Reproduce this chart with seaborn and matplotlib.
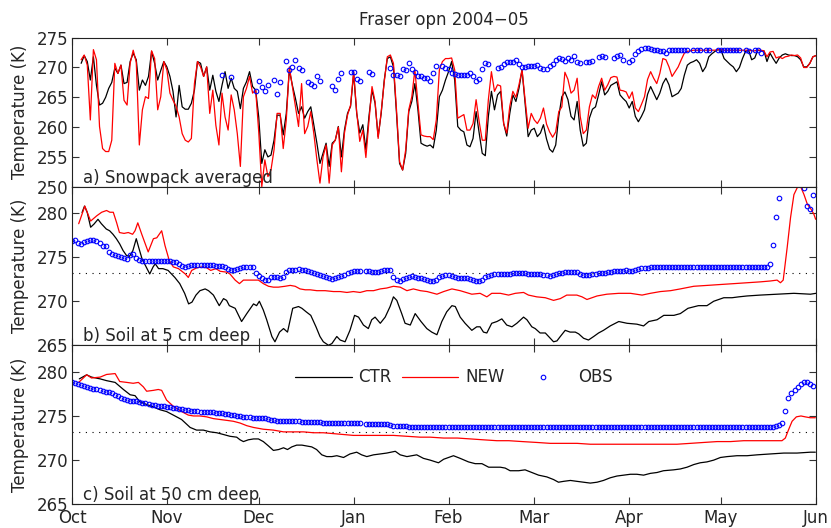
import numpy as np
import pandas as pd
import matplotlib
matplotlib.use("Agg")
import matplotlib.pyplot as plt
import matplotlib.dates as mdates
import seaborn as sns

nan = np.nan

# ---------------------------------------------------------------- data
START = pd.Timestamp("2004-10-01")
END = pd.Timestamp("2005-06-01")

months = ["Oct", "Nov", "Dec", "Jan", "Feb", "Mar", "Apr", "May", "Jun"]
series_names = ["CTR", "NEW", "OBS"]
panel_titles = ["a) Snowpack averaged", "b) Soil at 5 cm deep", "c) Soil at 50 cm deep"]
freezing_point = 273.15

# (a) snowpack-averaged temperature, daily from 4 Oct 2004
first_day_a = 3
ctr_a = [
    270.7, 272.0, 271.0, 267.9, 271.8, 267.0, 263.7, 264.0, 265.0, 266.5,
    267.5, 269.9, 269.0, 270.4, 267.3, 267.5, 271.0, 272.4, 271.3, 266.2,
    267.9, 267.0, 268.5, 272.7, 270.7, 267.9, 269.5, 271.0, 270.1, 268.5,
    266.0, 261.7, 267.0, 263.4, 263.0, 263.0, 264.0, 266.2, 271.0, 270.7,
    268.5, 270.1, 266.2, 268.7, 266.0, 264.3, 267.0, 269.3, 266.5, 268.2,
    266.5, 266.0, 263.1, 266.5, 267.6, 269.3, 266.8, 266.2, 261.7, 253.9,
    256.2, 255.0, 255.3, 257.8, 262.0, 262.0, 258.7, 262.3, 269.6, 267.0,
    264.8, 262.3, 263.4, 261.5, 262.6, 263.4, 260.3, 257.3, 253.9, 255.6,
    257.3, 253.4, 257.3, 257.8, 260.1, 255.0, 259.5, 262.3, 263.5, 269.0,
    262.3, 259.0, 260.4, 256.2, 261.8, 266.2, 264.0, 258.4, 262.3, 267.9,
    271.5, 271.8, 270.1, 262.3, 253.9, 252.8, 255.6, 262.6, 264.3, 267.3,
    262.9, 257.3, 257.0, 256.8, 257.0, 256.5, 259.5, 265.1, 266.2, 267.9,
    269.3, 271.0, 267.9, 260.1, 259.5, 259.2, 257.0, 256.7, 258.1, 262.6,
    259.0, 255.6, 255.2, 261.8, 266.0, 262.9, 265.4, 266.0, 260.6, 258.5,
    262.3, 265.4, 264.3, 266.5, 269.6, 264.0, 258.4, 259.5, 259.8, 258.4,
    259.0, 260.4, 258.0, 256.3, 255.8, 257.0, 261.8, 265.1, 265.9, 264.6,
    261.8, 261.2, 264.3, 259.5, 256.8, 257.3, 261.5, 263.0, 263.4, 265.4,
    267.6, 265.4, 266.0, 267.0, 267.3, 267.6, 265.4, 264.8, 264.3, 263.2,
    264.3, 261.8, 260.9, 261.8, 262.9, 265.5, 266.8, 265.7, 264.6, 265.7,
    267.3, 268.2, 267.1, 265.1, 265.4, 265.7, 266.5, 268.7, 270.4, 270.8,
    271.0, 271.3, 270.7, 269.3, 270.1, 271.8, 272.3, 272.7, 273.0, 272.9,
    271.5, 271.0, 270.5, 270.1, 269.3, 270.0, 271.5, 272.7, 272.9, 271.3,
    271.6, 272.9, 272.8, 272.8, 271.0, 272.4, 271.5, 270.7, 271.6, 272.1,
    272.3, 272.1, 272.0, 272.0, 271.8, 271.3, 270.1, 270.1, 270.7, 271.8, 272.0,
]
new_a = [
    271.3, 272.1, 270.4, 261.2, 273.0, 271.3, 260.1, 256.4, 255.9, 255.9,
    257.8, 270.7, 269.0, 270.4, 264.5, 263.7, 270.7, 272.9, 270.9, 257.0,
    262.9, 265.1, 264.8, 272.8, 271.5, 262.9, 265.1, 271.0, 269.6, 265.7,
    264.5, 263.5, 261.7, 258.9, 257.8, 257.5, 258.1, 267.3, 271.0, 270.1,
    268.5, 270.1, 262.3, 266.2, 260.3, 257.0, 265.7, 261.7, 259.5, 265.4,
    262.9, 258.9, 253.4, 265.1, 266.5, 268.5, 265.7, 266.2, 259.2, 250.0,
    254.5, 251.7, 252.8, 256.2, 262.3, 262.3, 256.4, 261.2, 270.1, 266.8,
    263.4, 260.1, 267.3, 258.9, 260.1, 262.6, 258.9, 254.5, 250.6, 255.0,
    257.0, 250.6, 257.0, 257.8, 260.0, 252.5, 259.0, 262.0, 263.7, 269.3,
    262.5, 257.6, 259.5, 254.9, 261.0, 266.8, 264.3, 258.1, 262.6, 267.6,
    271.8, 272.1, 270.7, 262.9, 254.2, 252.8, 256.2, 262.9, 265.1, 269.6,
    264.0, 258.7, 258.5, 258.4, 258.4, 257.9, 261.2, 269.6, 271.0, 271.5,
    271.5, 271.6, 269.6, 261.5, 261.8, 262.1, 259.5, 259.5, 260.6, 264.6,
    260.9, 257.8, 257.8, 264.6, 269.3, 266.0, 267.1, 266.9, 260.6, 259.0,
    263.5, 266.0, 265.0, 267.1, 269.6, 264.6, 259.8, 262.3, 261.2, 260.6,
    261.5, 263.2, 260.5, 259.2, 258.3, 259.2, 262.6, 263.4, 269.2, 268.0,
    265.7, 266.2, 268.2, 261.8, 258.9, 259.5, 263.4, 265.4, 264.8, 266.8,
    268.2, 266.2, 267.1, 268.3, 268.5, 268.4, 266.2, 266.1, 265.9, 264.8,
    265.9, 263.2, 262.6, 263.8, 265.1, 268.0, 269.3, 268.2, 267.3, 269.0,
    271.5, 271.3, 270.1, 268.5, 269.3, 270.1, 271.3, 272.4, 272.7, 272.8,
    272.9, 272.9, 272.9, 272.9, 272.9, 272.9, 272.9, 272.9, 273.0, 273.0,
    272.9, 272.9, 272.9, 272.9, 272.9, 272.9, 272.9, 272.9, 272.9, 272.8,
    272.8, 272.9, 272.9, 272.8, 271.8, 272.6, 272.7, 271.6, 271.8, 271.5,
    271.8, 271.9, 272.1, 272.0, 272.1, 271.6, 270.0, 270.0, 270.7, 271.8, 272.0,
]
obs_a_day = [
    49, 52, 60, 61, 62, 63, 64, 66, 67, 68, 70, 71, 72, 73, 74, 75, 77, 78, 79, 80,
    81, 85, 86, 87, 88, 91, 92, 93, 94, 97, 98, 104, 105, 106, 107, 108, 109, 110, 111, 112,
    113, 114, 115, 116, 117, 118, 119, 121, 122, 123, 124, 125, 126, 127, 128, 129, 130, 131, 132, 133,
    134, 135, 136, 139, 140, 141, 142, 143, 144, 145, 146, 147, 148, 149, 150, 151, 152, 153, 154, 155,
    156, 157, 158, 159, 160, 161, 162, 163, 164, 165, 166, 168, 169, 170, 172, 173, 174, 177, 178, 179,
    180, 182, 183, 184, 185, 186, 187, 188, 189, 190, 191, 192, 193, 194, 195, 196, 197, 198, 199, 200,
    201, 203, 204, 205, 207, 208, 211, 212, 213, 214, 215, 216, 217, 218, 220, 221, 223, 224, 225,
]
obs_a = [
    268.8, 268.4, 266.0, 267.7, 266.7, 266.0, 267.0, 267.9, 265.6, 267.6, 271.1, 269.6, 270.1, 271.2, 269.9, 269.5, 267.6, 267.3, 266.9, 268.6,
    267.7, 266.9, 266.3, 268.0, 269.1, 269.2, 269.2, 268.1, 267.7, 269.2, 268.9, 269.9, 268.7, 268.7, 268.5, 269.7, 269.6, 270.7, 269.8, 269.3,
    268.6, 268.6, 268.3, 268.2, 267.7, 269.0, 270.2, 270.2, 269.9, 269.7, 269.0, 268.9, 268.8, 268.7, 268.7, 268.8, 269.1, 268.6, 267.7, 268.1,
    269.8, 270.8, 270.6, 269.9, 270.1, 270.6, 270.9, 270.9, 270.9, 271.3, 270.6, 270.1, 270.1, 270.3, 270.3, 270.3, 270.5, 269.9, 269.7, 269.7,
    270.2, 270.6, 271.2, 271.6, 271.4, 271.1, 271.6, 271.2, 271.9, 271.0, 270.7, 270.9, 270.9, 271.1, 271.8, 271.9, 271.8, 271.6, 272.0, 272.1,
    271.3, 271.0, 271.2, 272.3, 272.8, 273.1, 273.2, 273.2, 273.1, 273.0, 272.9, 272.8, 272.7, 272.5, 272.9, 273.0, 273.0, 273.0, 273.0, 273.0,
    273.0, 273.0, 273.0, 273.0, 273.0, 273.0, 273.0, 273.0, 273.0, 273.0, 273.0, 273.0, 273.0, 273.0, 272.9, 272.8, 272.9, 272.9, 272.4,
]

# (b) soil temperature at 5 cm
day_b_ctr = [
    3.3, 4.1, 5.0, 6.1, 7.2, 8.5, 9.6, 11.2, 12.3, 13.4,
    14.5, 15.6, 16.7, 17.8, 18.8, 19.9, 21.0, 21.8, 22.9, 24.0,
    25.4, 26.5, 27.2, 28.3, 29.7, 31.4, 33.6, 35.2, 36.8, 38.1,
    39.2, 40.5, 41.8, 43.5, 44.6, 46.2, 48.1, 49.5, 50.5, 51.4,
    53.3, 55.4, 57.1, 59.3, 60.3, 61.2, 62.5, 63.6, 65.3, 66.3,
    67.8, 69.1, 70.4, 72.1, 74.0, 75.1, 76.5, 78.0, 79.7, 81.0,
    82.1, 83.8, 84.9, 86.5, 87.6, 89.2, 90.8, 92.3, 93.6, 95.2,
    96.8, 97.9, 99.0, 100.7, 102.3, 103.9, 105.0, 106.1, 107.7, 108.8,
    110.5, 112.1, 114.0, 115.9, 117.5, 119.2, 120.8, 122.4, 124.1, 125.2,
    126.8, 128.4, 130.6, 132.2, 133.3, 134.4, 135.5, 137.1, 138.8, 140.4,
    142.0, 143.7, 145.3, 147.5, 148.6, 150.2, 151.3, 152.9, 154.6, 156.2,
    157.3, 158.4, 159.5, 161.1, 162.7, 164.4, 165.5, 167.1, 168.7, 170.4,
    172.0, 173.6, 175.8, 178.6, 181.3, 184.5, 186.7, 188.4, 191.1, 193.3,
    196.6, 198.7, 201.2, 204.6, 207.4, 209.6, 212.9, 215.6, 217.8, 220.5,
    224.8, 230.3, 235.8, 241.2, 243.0,
]
ctr_b = [
    280.07, 280.8, 280.07, 278.4, 278.76, 279.3, 278.8, 278.2, 278.0, 277.6,
    277.1, 276.5, 275.75, 275.2, 275.1, 275.75, 277.1, 276.1, 274.8, 274.05,
    273.1, 273.9, 274.25, 273.7, 273.7, 273.5, 272.7, 272.0, 270.9, 269.7,
    269.9, 270.7, 271.2, 271.4, 271.2, 270.7, 269.5, 270.3, 270.1, 269.5,
    269.2, 267.7, 268.6, 269.7, 269.5, 270.0, 269.0, 267.9, 266.0, 265.4,
    266.5, 266.9, 266.5, 269.2, 269.4, 269.2, 268.8, 268.4, 267.1, 266.0,
    265.4, 265.0, 265.2, 266.0, 265.6, 265.4, 266.7, 268.4, 268.2, 267.3,
    266.9, 267.9, 268.2, 267.5, 268.2, 269.4, 270.5, 270.1, 268.6, 267.5,
    267.3, 268.6, 267.7, 266.9, 266.5, 266.2, 267.7, 268.8, 269.5, 269.4,
    268.2, 267.5, 266.7, 267.1, 267.1, 266.5, 266.4, 267.5, 267.7, 268.0,
    267.3, 267.1, 267.5, 268.2, 267.9, 267.1, 266.9, 266.4, 266.4, 265.8,
    265.4, 265.5, 266.0, 266.7, 266.5, 266.5, 266.3, 265.8, 265.6, 266.0,
    266.4, 266.7, 267.2, 267.7, 267.5, 267.4, 267.2, 267.7, 267.9, 268.4,
    268.4, 268.6, 269.2, 269.5, 269.5, 270.0, 270.4, 270.4, 270.5, 270.6,
    270.7, 270.8, 270.9, 270.8, 270.9,
]
day_b_new = [
    2.2, 4.2, 6.1, 8.1, 9.7, 11.3, 12.4, 13.5, 14.6, 15.5,
    17.0, 18.4, 19.8, 20.6, 21.5, 22.8, 24.9, 26.6, 27.7, 29.3,
    30.4, 31.8, 33.1, 34.8, 37.0, 38.0, 39.1, 40.8, 42.4, 44.0,
    45.3, 47.0, 48.4, 50.6, 51.6, 53.3, 54.7, 56.0, 57.6, 59.3,
    60.9, 62.5, 64.2, 65.8, 67.4, 69.6, 71.3, 72.9, 74.5, 76.2,
    77.8, 80.0, 82.7, 85.4, 87.6, 89.8, 91.9, 94.1, 96.3, 98.5,
    100.7, 102.8, 105.0, 107.2, 109.4, 111.5, 113.8, 116.0, 119.2, 121.4,
    124.1, 126.8, 130.6, 133.3, 135.5, 137.1, 139.9, 142.6, 144.8, 147.5,
    149.1, 151.8, 154.6, 157.3, 159.5, 161.6, 164.9, 166.6, 168.2, 171.5,
    174.7, 178.6, 182.4, 186.2, 188.9, 192.2, 195.5, 198.7, 203.1, 207.5,
    211.8, 216.2, 220.5, 224.8, 228.1, 230.3, 231.4, 232.3, 233.6, 234.7,
    235.8, 236.9, 238.0, 239.1, 240.2, 241.3, 242.3, 242.9,
]
new_b = [
    278.8, 280.8, 279.1, 279.7, 280.1, 280.3, 280.1, 280.1, 278.9, 277.8,
    277.7, 277.8, 277.6, 278.0, 278.9, 277.6, 275.6, 277.1, 277.2, 278.0,
    276.3, 274.6, 273.9, 273.7, 273.1, 272.7, 273.5, 273.8, 273.9, 273.8,
    273.5, 273.7, 273.4, 273.3, 273.1, 272.4, 272.0, 272.4, 272.4, 272.4,
    272.4, 272.0, 271.7, 271.6, 271.6, 271.7, 271.8, 271.7, 271.4, 271.3,
    271.3, 271.2, 271.2, 271.1, 271.1, 271.0, 271.1, 271.0, 271.2, 271.2,
    271.4, 271.5, 271.7, 271.6, 271.2, 271.4, 271.2, 271.1, 270.8, 271.1,
    271.4, 271.2, 270.8, 270.9, 270.5, 270.9, 270.9, 270.7, 270.9, 271.0,
    270.7, 270.5, 270.4, 270.1, 270.3, 270.7, 270.7, 270.5, 270.2, 270.6,
    270.8, 270.9, 270.9, 270.7, 270.9, 271.1, 271.2, 271.4, 271.7, 271.8,
    271.9, 272.0, 272.1, 272.2, 272.3, 272.4, 272.1, 272.4, 276.1, 279.5,
    282.1, 282.9, 283.0, 282.1, 281.0, 280.5, 279.9, 279.3,
]
# daily observations from 1 Oct 2004 (nan = no observation drawn)
obs_b = [
    276.8, 276.95, 276.6, 276.5, 276.75, 276.8, 276.95, 277.0, 276.8, 276.6,
    276.3, 276.3, 275.6, 275.4, 275.2, 275.15, 275.0, 274.9, 274.8, 275.2,
    275.4, 274.9, 274.7, 274.55, 274.55, 274.55, 274.55, 274.55, 274.55, 274.55,
    274.55, 274.55, 274.55, 274.5, 274.4, 274.2, 274.0, 273.9, 274.0, 274.1,
    274.15, 274.15, 274.15, 274.15, 274.1, 274.1, 274.1, 274.05, 274.05, 273.95,
    273.85, 273.7, 273.6, 273.5, 273.7, 273.8, 273.85, 273.87, 273.87, 273.87,
    273.2, 272.85, 272.6, 272.4, 272.4, 272.7, 272.7, 272.7, 272.6, 272.8,
    273.3, 273.55, 273.57, 273.6, 273.65, 273.6, 273.5, 273.4, 273.3, 273.2,
    273.12, 273.0, 272.9, 272.8, 272.6, 272.5, 272.6, 272.75, 272.85, 272.95,
    273.15, 273.3, 273.4, 273.42, 273.42, nan, 273.42, 273.4, 273.35, 273.3,
    273.3, 273.4, 273.55, 273.6, 273.5, 272.75, 272.45, 272.35, 272.5, 272.65,
    272.8, 272.82, 272.75, 272.67, 272.6, 272.5, 272.4, 272.35, 272.3, 272.4,
    272.7, 272.85, 272.93, 272.95, 272.82, 272.75, 272.67, 272.67, 272.67, 272.6,
    272.5, 272.4, 272.35, 272.26, 272.4, 272.7, 272.85, 272.95, 273.05, 273.05,
    273.05, 273.05, 273.1, 273.12, 273.2, 273.23, 273.23, 273.2, 273.15, 273.1,
    273.07, 273.05, 273.05, 273.05, 273.0, 272.95, 272.9, 273.0, 273.1, 273.2,
    273.25, 273.3, 273.3, 273.35, 273.35, 273.3, 273.12, 273.0, 272.95, 273.0,
    273.05, 273.1, 273.15, 273.2, 273.25, 273.3, 273.35, 273.38, 273.42, 273.45,
    273.47, 273.5, 273.48, 273.45, 273.5, 273.65, 273.75, 273.8, 273.82, 273.85,
    273.87, 273.87, 273.87, 273.87, 273.87, 273.87, 273.87, 273.87, 273.87, 273.87,
    273.87, 273.87, 273.87, 273.87, 273.87, 273.87, 273.87, 273.87, 273.87, 273.87,
    273.87, 273.87, 273.87, 273.87, 273.87, 273.87, 273.87, 273.87, 273.87, 273.87,
    273.87, 273.87, 273.87, 273.87, 273.87, 273.87, 273.87, 273.87, 274.25, 276.4,
    279.6, 281.7, nan, nan, nan, nan, nan, nan, nan, 282.9,
    280.8, 280.5, 282.1,
]

# (c) soil temperature at 50 cm
day_c_ctr = [
    2.4, 4.8, 6.4, 9.2, 11.3, 14.1, 16.8, 19.0, 20.6, 22.2,
    24.4, 26.0, 28.8, 30.9, 33.1, 35.8, 38.6, 40.7, 42.9, 45.1,
    47.3, 49.5, 51.6, 53.8, 54.9, 56.0, 57.6, 59.3, 60.9, 62.5,
    64.2, 65.8, 67.5, 69.1, 70.4, 71.8, 73.4, 75.1, 76.7, 78.3,
    79.9, 81.6, 83.2, 84.9, 86.5, 88.7, 90.8, 93.0, 94.6, 96.3,
    98.5, 100.7, 102.8, 105.6, 107.2, 109.4, 112.6, 114.8, 117.0,
    119.7, 121.4, 124.6, 126.8, 129.5, 131.7, 133.9, 136.1, 138.2, 139.9,
    141.5, 143.1, 145.9, 148.0, 150.2, 152.4, 155.1, 157.3, 158.9, 160.6,
    162.8, 164.9, 167.1, 169.3, 171.5, 173.6, 175.8, 178.0, 180.2, 182.4,
    184.5, 186.7, 188.9, 191.1, 193.2, 196.5, 198.7, 200.9, 203.1, 205.2,
    207.4, 209.6, 211.8, 214.0, 217.2, 220.5, 223.8, 228.1, 232.5, 236.8,
    241.2, 242.8,
]
ctr_c = [
    279.2, 279.66, 279.4, 279.2, 279.0, 278.8, 278.0, 277.4, 277.3, 276.6,
    276.3, 276.1, 275.7, 275.5, 275.1, 274.6, 273.7, 273.4, 273.4, 273.2,
    273.1, 272.9, 272.7, 272.6, 272.3, 272.1, 272.3, 272.4, 272.4, 272.1,
    271.6, 271.1, 271.2, 271.4, 271.2, 271.5, 271.7, 271.7, 271.6, 271.5,
    271.2, 270.6, 270.4, 270.4, 270.5, 270.3, 270.7, 270.9, 270.6, 270.4,
    270.6, 270.7, 270.8, 271.0, 270.6, 270.4, 270.6, 270.2, 270.0,
    269.7, 270.1, 270.5, 270.2, 269.8, 269.6, 269.6, 269.2, 269.2, 269.2,
    269.1, 268.8, 268.8, 268.9, 268.6, 268.3, 268.1, 267.8, 267.5, 267.6,
    267.7, 267.6, 267.5, 267.4, 267.5, 267.7, 268.0, 268.2, 268.3, 268.4,
    268.4, 268.3, 268.5, 268.6, 268.8, 268.9, 269.0, 269.2, 269.5, 269.7,
    269.8, 270.0, 270.3, 270.4, 270.5, 270.5, 270.6, 270.7, 270.8, 270.8,
    270.9, 270.9,
]
day_c_new = [
    2.2, 4.8, 6.4, 9.2, 11.3, 14.1, 15.6, 17.9, 20.0, 21.7,
    23.3, 24.4, 26.6, 28.2, 29.3, 30.9, 33.1, 35.8, 38.0, 39.7,
    41.8, 44.0, 46.2, 48.4, 50.6, 52.7, 54.9, 57.1, 59.3, 62.5,
    65.8, 69.1, 72.3, 75.6, 78.9, 82.1, 85.4, 88.7, 91.9, 96.3,
    100.7, 105.0, 109.4, 113.7, 117.0, 121.4, 125.9, 130.2, 134.4, 138.8,
    142.7, 147.1, 151.9, 156.2, 160.6, 165.0, 169.3, 175.8, 180.2, 184.5,
    188.9, 193.2, 197.6, 202.0, 206.3, 210.7, 215.1, 219.4, 223.8, 228.1,
    231.9, 233.0, 234.0, 235.2, 236.6, 238.1, 239.5, 241.1, 242.8,
]
new_c = [
    278.8, 279.66, 279.3, 279.4, 279.7, 279.8, 278.9, 278.8, 278.7, 278.8,
    278.3, 277.8, 277.9, 278.0, 277.9, 276.8, 276.1, 275.5, 275.1, 275.0,
    275.0, 274.9, 274.7, 274.6, 274.5, 274.4, 274.2, 273.9, 273.7, 273.5,
    273.4, 273.2, 273.2, 273.2, 273.1, 273.1, 273.0, 272.9, 272.8, 272.8,
    272.8, 272.8, 272.7, 272.6, 272.6, 272.5, 272.5, 272.4, 272.3, 272.2,
    272.2, 272.1, 272.0, 271.9, 271.9, 271.9, 271.8, 271.8, 271.8, 271.8,
    271.8, 271.8, 271.8, 271.9, 272.0, 272.1, 272.1, 272.2, 272.2, 272.2,
    272.2, 272.5, 273.4, 274.4, 274.9, 275.0, 274.9, 274.8, 274.8,
]
obs_c = [
    278.87, 278.75, 278.65, 278.5, 278.37, 278.25, 278.18, 278.1, 278.0, 277.95,
    277.85, 277.75, 277.67, 277.58, 277.4, 277.22, 277.05, 276.93, 276.85, 276.75,
    276.7, 276.64, 276.58, 276.5, 276.45, 276.35, 276.26, 276.2, 276.16, 276.12,
    276.09, 276.05, 276.0, 275.95, 275.88, 275.8, 275.75, 275.7, 275.63, 275.58,
    275.55, 275.52, 275.5, 275.48, 275.46, 275.43, 275.4, 275.36, 275.32, 275.29,
    275.25, 275.2, 275.15, 275.08, 275.04, 274.99, 274.94, 274.9, 274.85, 274.82,
    274.8, 274.79, 274.76, 274.72, 274.66, 274.6, 274.54, 274.48, 274.45, 274.43,
    274.42, 274.42, 274.42, 274.4, 274.38, 274.36, 274.34, 274.32, 274.3, 274.3,
    274.3, 274.28, 274.25, 274.23, 274.21, 274.19, 274.19, 274.19, 274.17, 274.15,
    274.15, 274.15, 274.15, 274.15, 274.15, nan, 274.11, 274.11, 274.11, 274.11,
    274.11, 274.11, 274.1, 274.05, 273.95, 273.9, 273.85, 273.81, 273.81, 273.81,
    273.8, 273.8, 273.8, 273.8, 273.8, 273.8, 273.8, 273.8, 273.8, 273.8,
    273.8, 273.8, 273.8, 273.8, 273.8, 273.8, 273.8, 273.8, 273.8, 273.8,
    273.8, 273.75, 273.75, 273.75, 273.75, 273.75, 273.75, 273.75, 273.75, 273.75,
    273.75, 273.75, 273.75, 273.75, 273.75, 273.75, 273.75, 273.75, 273.75, 273.75,
    273.75, 273.75, 273.75, 273.75, 273.75, 273.75, 273.75, 273.75, 273.75, 273.75,
    273.75, 273.75, 273.75, 273.75, 273.75, 273.75, 273.75, 273.75, 273.75, 273.75,
    273.75, 273.75, 273.75, 273.75, 273.75, 273.75, 273.75, 273.75, 273.75, 273.75,
    273.75, 273.75, 273.75, 273.75, 273.75, 273.75, 273.75, 273.75, 273.75, 273.75,
    273.75, 273.75, 273.75, 273.75, 273.75, 273.75, 273.75, 273.75, 273.75, 273.75,
    273.75, 273.78, 273.78, 273.78, 273.78, 273.78, 273.78, 273.78, 273.78, 273.78,
    273.78, 273.78, 273.78, 273.78, 273.78, 273.78, 273.78, 273.78, 273.78, 273.78,
    273.78, 273.78, 273.78, 273.78, 273.78, 273.78, 273.78, 273.78, 273.78, 273.78,
    273.85, 273.95, 274.2, 275.6, 277.0, 277.55, 277.95, 278.25, 278.6, 278.85,
    278.9, 278.65, 278.35,
]


def to_dates(days):
    return START + pd.to_timedelta(np.asarray(days, dtype=float), unit="D")


def daily_dates(first_day, n):
    return pd.date_range(START + pd.Timedelta(days=first_day), periods=n, freq="D")


# ---------------------------------------------------------------- style
sns.set_theme(style="ticks")
plt.rcParams["font.family"] = ["DejaVu Sans"]
plt.rcParams["axes.edgecolor"] = "#222222"
plt.rcParams["axes.linewidth"] = 0.8

CTR_COLOR = "black"
NEW_COLOR = "#ff0000"
OBS_COLOR = "#0000ff"
FS = 12

fig = plt.figure(figsize=(8.31, 5.28), dpi=100)
left, width = 0.0866, 0.8953
ax_a = fig.add_axes([left, 0.6464, width, 0.2822])
ax_b = fig.add_axes([left, 0.3460, width, 0.3004])
ax_c = fig.add_axes([left, 0.0449, width, 0.3011])
axes = [ax_a, ax_b, ax_c]

line_kw = dict(linewidth=0.9, estimator=None, errorbar=None)
obs_kw = dict(marker="o", linestyle="", markersize=3.3, markerfacecolor="none",
              markeredgecolor=OBS_COLOR, markeredgewidth=0.8, color=OBS_COLOR,
              estimator=None, errorbar=None)

# panel a
sns.lineplot(x=daily_dates(first_day_a, len(ctr_a)), y=ctr_a, ax=ax_a,
             color=CTR_COLOR, **line_kw)
sns.lineplot(x=daily_dates(first_day_a, len(new_a)), y=new_a, ax=ax_a,
             color=NEW_COLOR, **line_kw)
sns.lineplot(x=to_dates(obs_a_day), y=obs_a, ax=ax_a, **obs_kw)

# panel b
ax_b.axhline(freezing_point, color="black", linewidth=0.8, linestyle=(0, (1, 5)), zorder=1)
sns.lineplot(x=to_dates(day_b_ctr), y=ctr_b, ax=ax_b, color=CTR_COLOR, **line_kw)
sns.lineplot(x=to_dates(day_b_new), y=new_b, ax=ax_b, color=NEW_COLOR, **line_kw)
sns.lineplot(x=daily_dates(0, len(obs_b)), y=obs_b, ax=ax_b, **obs_kw)

# panel c
ax_c.axhline(freezing_point, color="black", linewidth=0.8, linestyle=(0, (1, 5)), zorder=1)
sns.lineplot(x=to_dates(day_c_ctr), y=ctr_c, ax=ax_c, color=CTR_COLOR,
             label=series_names[0], **line_kw)
sns.lineplot(x=to_dates(day_c_new), y=new_c, ax=ax_c, color=NEW_COLOR,
             label=series_names[1], **line_kw)
sns.lineplot(x=daily_dates(0, len(obs_c)), y=obs_c, ax=ax_c,
             label=series_names[2], **obs_kw)

ax_c.legend(loc="center", bbox_to_anchor=(0.513, 0.798), ncol=3, frameon=False,
            fontsize=FS, handlelength=3.4, handletextpad=0.4, columnspacing=0.6,
            borderpad=0.0)

# axes formatting
ylims = [(250, 275), (265, 283), (265, 283)]
yticks = [[250, 255, 260, 265, 270, 275], [265, 270, 275, 280], [265, 270, 275, 280]]
for ax, lim, ticks, title in zip(axes, ylims, yticks, panel_titles):
    ax.set_xlim(START, END)
    ax.set_ylim(*lim)
    ax.set_yticks(ticks)
    ax.xaxis.set_major_locator(mdates.MonthLocator())
    ax.xaxis.set_major_formatter(mdates.DateFormatter("%b"))
    ax.tick_params(axis="both", which="major", direction="in", top=True, right=True,
                   length=5, width=0.8, color="#333333", labelsize=FS)
    ax.tick_params(axis="y", pad=2.5)
    ax.tick_params(axis="x", pad=3.5)
    ax.minorticks_off()
    ax.set_xlabel("")
    ax.set_ylabel("Temperature (K)", fontsize=FS)
    ax.yaxis.set_label_coords(-0.058, 0.5)
    ax.text(0.0152, 0.025, title, transform=ax.transAxes, fontsize=FS,
            ha="left", va="baseline")
    for side in ax.spines.values():
        side.set_visible(True)

ax_a.tick_params(labelbottom=False)
ax_b.tick_params(labelbottom=False)
ax_c.set_xticks(ax_c.get_xticks())
ax_c.set_xticklabels(months)

ax_a.set_title("Fraser opn 2004\u221205", fontsize=FS, pad=9)

fig.savefig("out.png", dpi=100)
